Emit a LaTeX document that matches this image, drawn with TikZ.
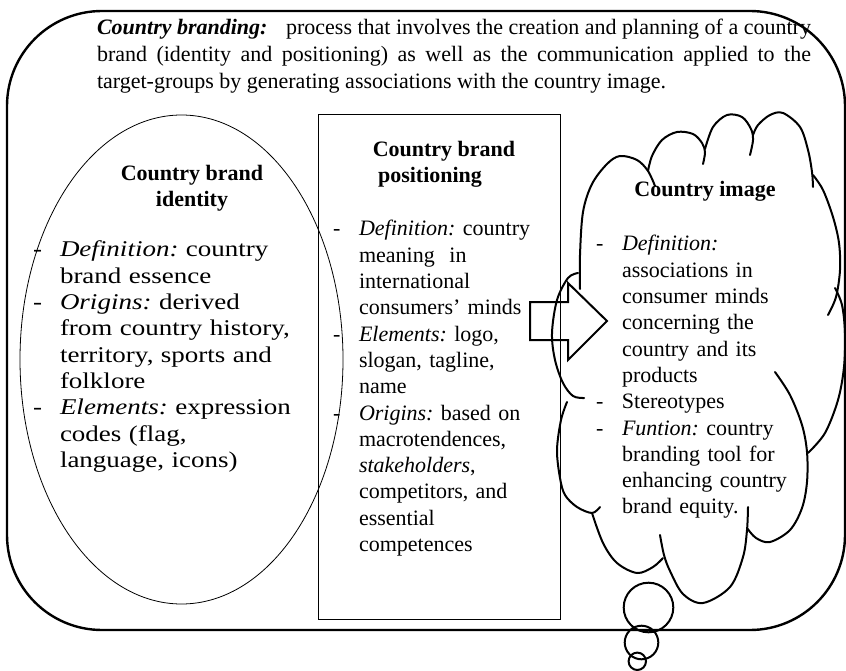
\documentclass[tikz,border=0pt]{standalone}
\usepackage{fontspec}
\setmainfont{Liberation Serif}
\newfontfamily\widefont[FakeStretch=1.2]{Liberation Serif}
\newcommand\dsh{\leavevmode\llap{\makebox[26pt][l]{-}}}
\newcommand\wdsh{\leavevmode\llap{\makebox[27pt][l]{-}}}
\begin{document}
\frenchspacing
\begin{tikzpicture}[x=1pt,y=-1pt,
  txt/.style={inner sep=0pt, outer sep=0pt, font=\fontsize{22}{26.3}\selectfont\frenchspacing},
  blk/.style={txt, anchor=base west, text width=280pt, align=left},
  hd/.style={txt, anchor=base, font=\fontsize{22}{26.3}\selectfont\bfseries},
  cloudarc/.style={line width=2pt, line cap=round, line join=round},
  bubble/.style={line width=2pt},
]
\useasboundingbox (0,0) rectangle (846,671);
% outer frame
\node[draw, line width=2.4pt, rounded corners=95pt, minimum width=838pt, minimum height=619pt, inner sep=0pt] (outer) at (426,320.5) {};
% identity ellipse
\draw[line width=0.8pt] (181.5,359.5) ellipse [x radius=161.5pt, y radius=244.5pt];
% positioning box
\node[draw, line width=0.9pt, minimum width=242pt, minimum height=505pt, inner sep=0pt] (posbox) at (439,366.5) {};
% block arrow
\draw[line width=2pt, line join=miter] (530,302) -- (568,302) -- (568,283) -- (607,321) -- (568,360) -- (568,340) -- (530,340) -- cycle;
% cloud
\draw[cloudarc] plot[smooth, tension=0.55] coordinates {(580,289) (580,255) (583,212) (592,184) (607,164) (620,156) (637,160) (648,171) (655,186)};
\draw[cloudarc] plot[smooth, tension=0.55] coordinates {(648,171) (652,156) (662,140) (677,132) (693,134) (702,143) (705,152) (703,164)};
\draw[cloudarc] plot[smooth, tension=0.55] coordinates {(705,149) (713,127) (727,115) (742,117) (751,129) (753,140) (750,155)};
\draw[cloudarc] plot[smooth, tension=0.55] coordinates {(753,135) (758,125) (770,115) (783,113) (800,127) (808,150) (812,172) (813,187)};
\draw[cloudarc] plot[smooth, tension=0.55] coordinates {(813,175) (823,190) (833,217) (839,243) (840,270) (836,297) (828,315)};
\draw[cloudarc] plot[smooth, tension=0.55] coordinates {(835,288) (842,305) (845,333) (844,367) (838,400) (825,433) (808,453)};
\draw[cloudarc] plot[smooth, tension=0.55] coordinates {(775,372) (790,395) (802,425) (807,452) (807,482) (802,508) (790,530) (770,542) (756,538) (747,528)};
\draw[cloudarc] plot[smooth, tension=0.55] coordinates {(748,507) (747,530) (743,557) (730,587) (703,603) (683,594) (670,571) (664,555) (660,535)};
\draw[cloudarc] plot[smooth, tension=0.55] coordinates {(592,513) (603,543) (617,563) (637,573) (653,567) (663,558)};
\draw[cloudarc] plot[smooth, tension=0.55] coordinates {(567,402) (561,420) (557,450) (560,478) (565,495) (577,507) (592,513) (600,507)};
\draw[cloudarc] plot[smooth, tension=0.55] coordinates {(578,273) (568,278) (557,300) (552,333) (555,360) (563,383) (573,396) (584,398)};
% thought bubbles
\draw[bubble] (648.5,607.5) circle [radius=24.8pt];
\draw[bubble] (641.5,642.5) circle [radius=16.8pt];
\draw[bubble] (637.3,661.3) circle [radius=8.7pt];
% top text
\node[txt, anchor=base west, text width=714pt, align=justify, font=\fontsize{22}{27}\selectfont] (brandtxt) at (97,35)
 {\textbf{\textit{Country branding:}}\hspace{13pt} process that involves the creation and planning of a country\linebreak
  brand (identity and positioning) as well as the communication applied to the\linebreak
  target-groups by generating associations with the country image.};
% identity text
\node[hd] (idh1) at (192,181) {Country brand};
\node[hd] (idh2) at (192,207) {identity};
\node[blk, font=\widefont\fontsize{22.5}{26.3}\selectfont] (idlist) at (60,257) {\wdsh\textit{Definition:} country\\
 brand essence\\
 \wdsh\textit{Origins:} derived\\
 from country history,\\
 territory, sports and\\
 folklore\\
 \wdsh\textit{Elements:} expression\\
 codes (flag,\\
 language, icons)};
% positioning text
\node[hd] (poh1) at (444,157) {Country brand};
\node[hd] (poh2) at (430,183) {positioning};
\node[blk] (polist) at (359,236) {\dsh\textit{Definition:} country\\
 meaning\ \ in\\
 international\\
 consumers’ minds\\
 \dsh\textit{Elements:} logo,\\
 slogan, tagline,\\
 name\\
 \dsh\textit{Origins:} based on\\
 macrotendences,\\
 \textit{stakeholders},\\
 competitors, and\\
 essential\\
 competences};
% image text
\node[hd] (imh) at (705,197) {Country image};
\node[blk] (imlist) at (622,251) {\dsh\textit{Definition:}\\
 associations in\\
 consumer minds\\
 concerning the\\
 country and its\\
 products\\
 \dsh Stereotypes\\
 \dsh\textit{Funtion:} country\\
 branding tool for\\
 enhancing country\\
 brand equity.};
\end{tikzpicture}
\end{document}
